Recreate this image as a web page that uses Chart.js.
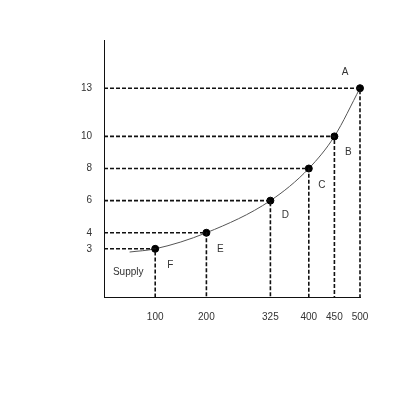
<!DOCTYPE html>
<html>
<head>
<meta charset="utf-8">
<script src="https://cdn.jsdelivr.net/npm/chart.js@4.4.0/dist/chart.umd.min.js"></script>
<style>
  html, body { margin: 0; padding: 0; background: #fff; }
  #wrap { width: 400px; height: 400px; }
</style>
</head>
<body>
<div id="wrap"><canvas id="supply-chart"></canvas></div>
<script>
// Supply schedule
var quantities = [100, 200, 325, 400, 450, 500];
var prices = [3, 4, 6, 8, 10, 13];
var pointNames = ['F', 'E', 'D', 'C', 'B', 'A'];
var curveStart = { x: 50, y: 2.8 };
var xTicks = [100, 200, 325, 400, 450, 500];
var yTicks = [3, 4, 6, 8, 10, 13];

document.addEventListener('DOMContentLoaded', function () {
    var ctx = document.getElementById('supply-chart').getContext('2d');

    // curve points
    var curve = [curveStart].concat(quantities.map(function (q, i) {
        return { x: q, y: prices[i] };
    }));

    // dashed guides: from y axis to point, then down to x axis
    var guides = quantities.map(function (q, i) {
        return {
            type: 'line',
            data: [{ x: 0, y: prices[i] }, { x: q, y: prices[i] }, { x: q, y: 0 }],
            borderColor: '#111',
            borderWidth: 1.6,
            borderDash: [4, 2],
            pointRadius: 0,
            tension: 0,
            fill: false,
            clip: false
        };
    });

    // label offsets in pixels, relative to each point
    var labelOffsets = {
        A: [-15, -16], B: [14, 16], C: [13, 17], D: [15, 15], E: [14, 16], F: [15, 16]
    };

    var pointLabels = {
        id: 'pointLabels',
        afterDatasetsDraw: function (chart) {
            var c = chart.ctx;
            var xs = chart.scales.x, ys = chart.scales.y;
            c.save();
            c.font = '10px "Liberation Sans", Arial, sans-serif';
            c.fillStyle = '#333';
            c.textAlign = 'center';
            c.textBaseline = 'middle';
            quantities.forEach(function (q, i) {
                var name = pointNames[i];
                var off = labelOffsets[name];
                c.fillText(name, xs.getPixelForValue(q) + off[0], ys.getPixelForValue(prices[i]) + off[1]);
            });
            c.fillText('Supply', xs.getPixelForValue(quantities[0]) - 27, ys.getPixelForValue(prices[0]) + 23);
            c.restore();
        }
    };

    new Chart(ctx, {
        type: 'scatter',
        data: {
            datasets: guides.concat([{
                type: 'line',
                data: curve,
                borderColor: '#555',
                borderWidth: 1,
                tension: 0.4,
                cubicInterpolationMode: 'monotone',
                pointRadius: curve.map(function (p, i) { return i === 0 ? 0 : 3.5; }),
                pointBackgroundColor: '#000',
                pointBorderColor: '#000',
                fill: false,
                clip: false
            }])
        },
        options: {
            responsive: true,
            maintainAspectRatio: false,
            animation: false,
            layout: { padding: { top: 40, right: 40, left: 0, bottom: 0 } },
            plugins: {
                legend: { display: false },
                tooltip: { enabled: false }
            },
            scales: {
                x: {
                    type: 'linear',
                    min: 0,
                    max: 500,
                    grid: { display: false, drawTicks: false },
                    border: { display: true, color: '#111', width: 1 },
                    afterBuildTicks: function (scale) {
                        scale.ticks = xTicks.map(function (v) { return { value: v }; });
                    },
                    afterFit: function (scale) { scale.height = 103; },
                    ticks: {
                        padding: 14,
                        color: '#333',
                        font: { family: '"Liberation Sans", Arial, sans-serif', size: 10 },
                        maxRotation: 0,
                        autoSkip: false
                    }
                },
                y: {
                    type: 'linear',
                    min: 0,
                    max: 16,
                    grid: { display: false, drawTicks: false },
                    border: { display: true, color: '#111', width: 1 },
                    afterBuildTicks: function (scale) {
                        scale.ticks = yTicks.map(function (v) { return { value: v }; });
                    },
                    afterFit: function (scale) { scale.width = 104; },
                    ticks: {
                        padding: 12,
                        color: '#333',
                        font: { family: '"Liberation Sans", Arial, sans-serif', size: 10 },
                        autoSkip: false
                    }
                }
            }
        },
        plugins: [pointLabels]
    });
});
</script>
</body>
</html>
